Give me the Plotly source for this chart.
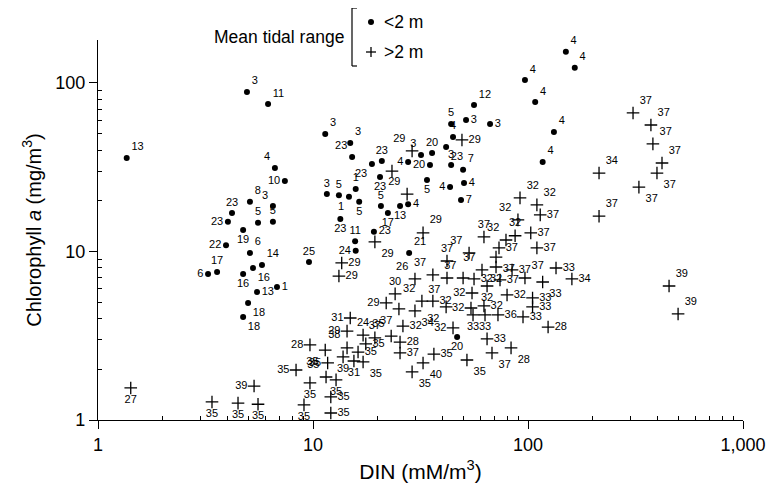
import plotly.graph_objects as go

# ---- data: sites with mean tidal range < 2 m (dots) ----
dot_din = [1.36, 5.09, 4.20, 4.02, 5.55, 6.51, 4.73, 3.94, 5.09, 5.79, 5.26, 3.58, 3.25, 4.73,
           5.49, 4.99, 4.73, 6.80, 9.58, 4.93, 6.18, 11.4, 14.9, 15.2, 18.8, 20.9, 27.7, 31.8,
           6.65, 7.40, 11.6, 13.2, 14.7, 15.8, 16.4, 6.51, 13.4, 15.7, 19.2, 15.8, 20.5, 20.7,
           22.3, 25.4, 27.7, 28.0, 33.9, 43.4, 50.4, 48.8, 35.8, 41.6, 44.8, 43.9, 51.5, 66.6,
           56.1, 43.9, 49.9, 35.0, 150, 165, 96.8, 108, 132, 117, 46.8]
dot_chl = [35.9, 19.7, 16.9, 15.0, 14.8, 15.0, 13.4, 10.9, 9.80, 8.32, 7.98, 7.56, 7.35, 7.35,
           5.75, 4.95, 4.09, 6.16, 8.66, 88.5, 75.0, 49.8, 44.1, 36.4, 33.0, 34.4, 34.0, 37.4,
           31.3, 26.2, 21.9, 21.6, 21.1, 23.5, 19.7, 18.6, 15.6, 11.5, 13.1, 10.1, 27.7, 18.6,
           16.9, 18.6, 19.1, 9.80, 26.6, 24.1, 25.5, 20.2, 38.4, 41.7, 47.8, 57.1, 60.3, 57.1,
           74.0, 32.6, 30.5, 32.6, 153, 123, 104, 77.1, 51.2, 34.0, 3.11]
dot_site = ["13", "8", "23", "23", "5", "5", "19", "22", "6", "14", "16", "17", "6", "16",
            "13", "18", "18", "1", "25", "3", "11", "3", "3", "23", "23", "23", "4", "3",
            "4", "10", "3", "5", "1", "1", "5", "3", "23", "11", "23", "24", "23", "5",
            "17", "13", "4", "21", "5", "4", "4", "7", "20", "23", "4", "5", "3", "3",
            "12", "3", "7", "20", "4", "4", "4", "4", "4", "4", "20"]

# ---- data: sites with mean tidal range > 2 m (crosses) ----
crs_din = [1.42, 3.39, 4.48, 5.55, 5.32, 8.34, 9.68, 11.4, 11.7, 11.5, 12.8, 9.68, 9.08, 12.1,
           12.1, 13.8, 15.5, 17.1, 14.4, 17.6, 16.2, 14.9, 14.4, 17.1, 19.4, 23.1, 26.2, 25.4,
           25.4, 24.1, 21.9, 32.1, 25.1, 29.8, 28.9, 32.5, 36.5, 52.0, 68.0, 83.4, 64.5, 44.8,
           124, 94.8, 105, 105, 79.9, 72.5, 63.1, 55.5, 62.4, 54.3, 54.9, 36.1, 41.6, 64.5,
           91.8, 110, 114, 89.8, 32.5, 62.4, 79.0, 87.1, 103, 73.3, 110, 53.2, 71.0, 42.0,
           61.1, 71.0, 84.3, 96.8, 135, 160, 117, 36.1, 42.0, 49.9, 56.1, 74.1, 49.3, 28.9,
           27.4, 23.3, 19.4, 13.6, 13.2, 29.8, 308, 373, 381, 420, 398, 328, 214, 214,
           453, 499]
crs_chl = [1.55, 1.28, 1.26, 1.24, 1.59, 1.98, 2.79, 2.60, 2.18, 1.80, 1.73, 1.66, 1.23, 1.37,
           1.10, 2.37, 2.24, 2.21, 2.68, 2.83, 2.53, 4.03, 3.37, 3.19, 3.07, 3.15, 3.61, 2.90,
           2.50, 5.60, 4.95, 5.08, 4.56, 4.44, 1.93, 2.18, 2.46, 2.27, 2.50, 2.68, 3.03, 3.52,
           3.56, 4.09, 4.69, 5.30, 5.52, 4.20, 4.20, 4.20, 4.75, 4.62, 5.67, 5.08, 4.69, 6.24,
           20.8, 18.9, 16.5, 15.4, 12.9, 12.2, 11.7, 12.4, 12.9, 10.5, 10.5, 9.80, 9.27, 8.78,
           7.77, 8.09, 7.77, 6.96, 7.98, 6.87, 6.59, 7.26, 6.96, 6.96, 6.87, 6.78, 45.9, 39.5,
           21.9, 30.0, 11.4, 8.55, 7.15, 6.87, 66.4, 56.3, 43.5, 33.5, 29.2, 24.1, 29.2, 16.2,
           6.24, 4.26]
crs_site = ["27", "35", "35", "35", "39", "35", "28", "35", "35", "35", "35", "35", "35", "35",
            "35", "39", "31", "35", "38", "35", "35", "31", "29", "24", "37", "35", "32", "28",
            "37", "30", "29", "32", "37", "34", "35", "40", "35", "35", "37", "28", "33", "32",
            "28", "33", "33", "33", "32", "36", "33", "33", "32", "32", "32", "32", "32", "32",
            "32", "32", "37", "32", "29", "37", "32", "32", "37", "37", "37", "37", "37", "37",
            "37", "32", "37", "37", "33", "34", "33", "37", "37", "37", "32", "37", "29", "29",
            "29", "", "29", "29", "29", "26", "37", "37", "37", "37", "37", "37", "34", "37",
            "39", "39"]

x_tickvals = [1, 10, 100, 1000]
x_ticktext = ["1", "10", "100", "1,000"]
y_tickvals = [1, 10, 100]
y_ticktext = ["1", "10", "100"]

# ---- label placement (style) ----
dot_lpos = ["top right", "top right", "top center", "middle left", "top center", "top center",
            "bottom center", "middle left", "top right", "top right", "bottom right", "top center",
            "middle left", "bottom center", "middle right", "bottom right", "bottom right",
            "middle right", "top center", "top right", "top right", "top right", "top right",
            "top left", "bottom left", "top center", "middle left", "top left", "top left",
            "middle left", "top center", "top center", "bottom left", "top center", "bottom center",
            "top left", "bottom center", "top center", "middle right", "middle left", "bottom center",
            "top center", "bottom center", "bottom center", "middle right", "top right",
            "bottom center", "middle left", "middle right", "middle right", "top center",
            "bottom right", "top center", "top center", "middle right", "middle right", "top right",
            "top center", "top right", "middle left", "top right", "top right", "top right",
            "top right", "top right", "top right", "bottom center"]
crs_lpos = ["bottom center", "bottom center", "bottom center", "bottom center", "middle left",
            "middle left", "middle left", "bottom left", "middle left", "top left", "bottom center",
            "bottom center", "bottom center", "middle right", "middle right", "bottom center",
            "bottom center", "bottom right", "top left", "middle right", "middle right", "middle left",
            "middle left", "top center", "top center", "top left", "middle right", "middle right",
            "middle right", "top center", "middle left", "top left", "bottom left", "bottom right",
            "bottom right", "bottom right", "middle right", "bottom right", "bottom right",
            "bottom right", "middle right", "middle left", "middle right", "middle right",
            "middle right", "middle right", "middle right", "middle right", "bottom center",
            "bottom center", "middle right", "middle left", "middle left", "middle right",
            "bottom left", "bottom center", "top right", "top right", "middle right", "top left",
            "top right", "top center", "top left", "top center", "middle right", "middle right",
            "middle right", "top left", "bottom right", "top center", "top left", "bottom center",
            "middle right", "top right", "middle right", "middle right", "bottom right", "top left",
            "bottom left", "top left", "middle right", "middle right", "middle right", "top left",
            "top left", "middle right", "bottom right", "middle right", "middle right", "top left",
            "top right", "top right", "top right", "top right", "bottom right", "bottom right",
            "top right", "top right", "top right", "top right"]

FONT = "Liberation Sans, Arial, Helvetica, sans-serif"

fig = go.Figure()
fig.add_trace(go.Scatter(
    x=dot_din, y=dot_chl, mode="markers+text", text=dot_site, textposition=dot_lpos,
    textfont=dict(size=11, color="black", family=FONT),
    marker=dict(symbol="circle", size=6, color="black"), showlegend=False, cliponaxis=False))
fig.add_trace(go.Scatter(
    x=crs_din, y=crs_chl, mode="markers+text", text=crs_site, textposition=crs_lpos,
    textfont=dict(size=11, color="black", family=FONT),
    marker=dict(symbol="cross-thin", size=9, color="black", line=dict(width=1.3, color="black")),
    showlegend=False, cliponaxis=False))

# page body adds an 8 px offset; compensate in the margins
OFF = 8
L, R, T, B = 98 - OFF, 743 - OFF, 40 - OFF, 420 - OFF


def px(xp, yp):
    """reference-pixel position -> paper coordinates"""
    return (xp - OFF - L) / (R - L), (B - (yp - OFF)) / (B - T)


axis_common = dict(type="log", showline=True, linecolor="black", linewidth=1.2,
                   ticks="outside", ticklen=8, tickwidth=1.2, tickcolor="black",
                   showgrid=False, zeroline=False, mirror=False, automargin=False,
                   tickfont=dict(size=18, color="black", family=FONT))
minor_x = [m * d for d in (1, 10, 100) for m in range(2, 10)]
minor_y = [m * d for d in (1, 10, 100) for m in range(2, 10) if m * d < 175]

fig.update_xaxes(**axis_common, range=[0, 3], tickmode="array", tickvals=x_tickvals,
                 ticktext=x_ticktext,
                 minor=dict(tickmode="array", tickvals=minor_x, ticks="inside", ticklen=4,
                            tickcolor="black", showgrid=False),
                 title=dict(text="DIN (mM/m<sup>3</sup>)", font=dict(size=21, family=FONT, color="black"),
                            standoff=10))
fig.update_yaxes(**axis_common, range=[0, 2.255], tickmode="array", tickvals=y_tickvals,
                 ticktext=y_ticktext,
                 minor=dict(tickmode="array", tickvals=minor_y, ticks="inside", ticklen=4,
                            tickcolor="black", showgrid=False),
                 title=dict(text="Chlorophyll <i>a</i> (mg/m<sup>3</sup>)",
                            font=dict(size=20, family=FONT, color="black"), standoff=8))

# ---- legend drawn by hand ----
shapes = []
bx = px(352, 0)[0]
bx2 = px(357, 0)[0]
yt = px(0, 8)[1]
yb = px(0, 66)[1]
for x0, x1, y0, y1 in [(bx, bx, yb, yt), (bx, bx2, yt, yt), (bx, bx2, yb, yb)]:
    shapes.append(dict(type="line", xref="paper", yref="paper", x0=x0, x1=x1, y0=y0, y1=y1,
                       line=dict(color="black", width=1.2)))
c0 = px(368, 19); c1 = px(374, 25)
shapes.append(dict(type="circle", xref="paper", yref="paper", x0=c0[0], x1=c1[0], y0=c1[1], y1=c0[1],
                   fillcolor="black", line=dict(color="black", width=0)))
h0 = px(366, 52); h1 = px(376, 52)
shapes.append(dict(type="line", xref="paper", yref="paper", x0=h0[0], x1=h1[0], y0=h0[1], y1=h1[1],
                   line=dict(color="black", width=1.3)))
v0 = px(371, 47); v1 = px(371, 57)
shapes.append(dict(type="line", xref="paper", yref="paper", x0=v0[0], x1=v1[0], y0=v0[1], y1=v1[1],
                   line=dict(color="black", width=1.3)))

ann = []
for txt, (xx, yy), anchor in [("Mean tidal range", (346, 37), "right"),
                              ("&lt;2 m", (382, 22), "left"),
                              ("&gt;2 m", (382, 52), "left")]:
    p = px(xx, yy)
    ann.append(dict(x=p[0], y=p[1], xref="paper", yref="paper", text=txt,
                    showarrow=False, xanchor=anchor, yanchor="middle",
                    font=dict(size=17.5, family=FONT, color="black")))

fig.update_layout(width=774, height=492, margin=dict(l=L, r=774 - R, t=T, b=492 - B),
                  paper_bgcolor="white", plot_bgcolor="white", shapes=shapes, annotations=ann,
                  font=dict(family=FONT, color="black"))

fig.write_html("out.html")
